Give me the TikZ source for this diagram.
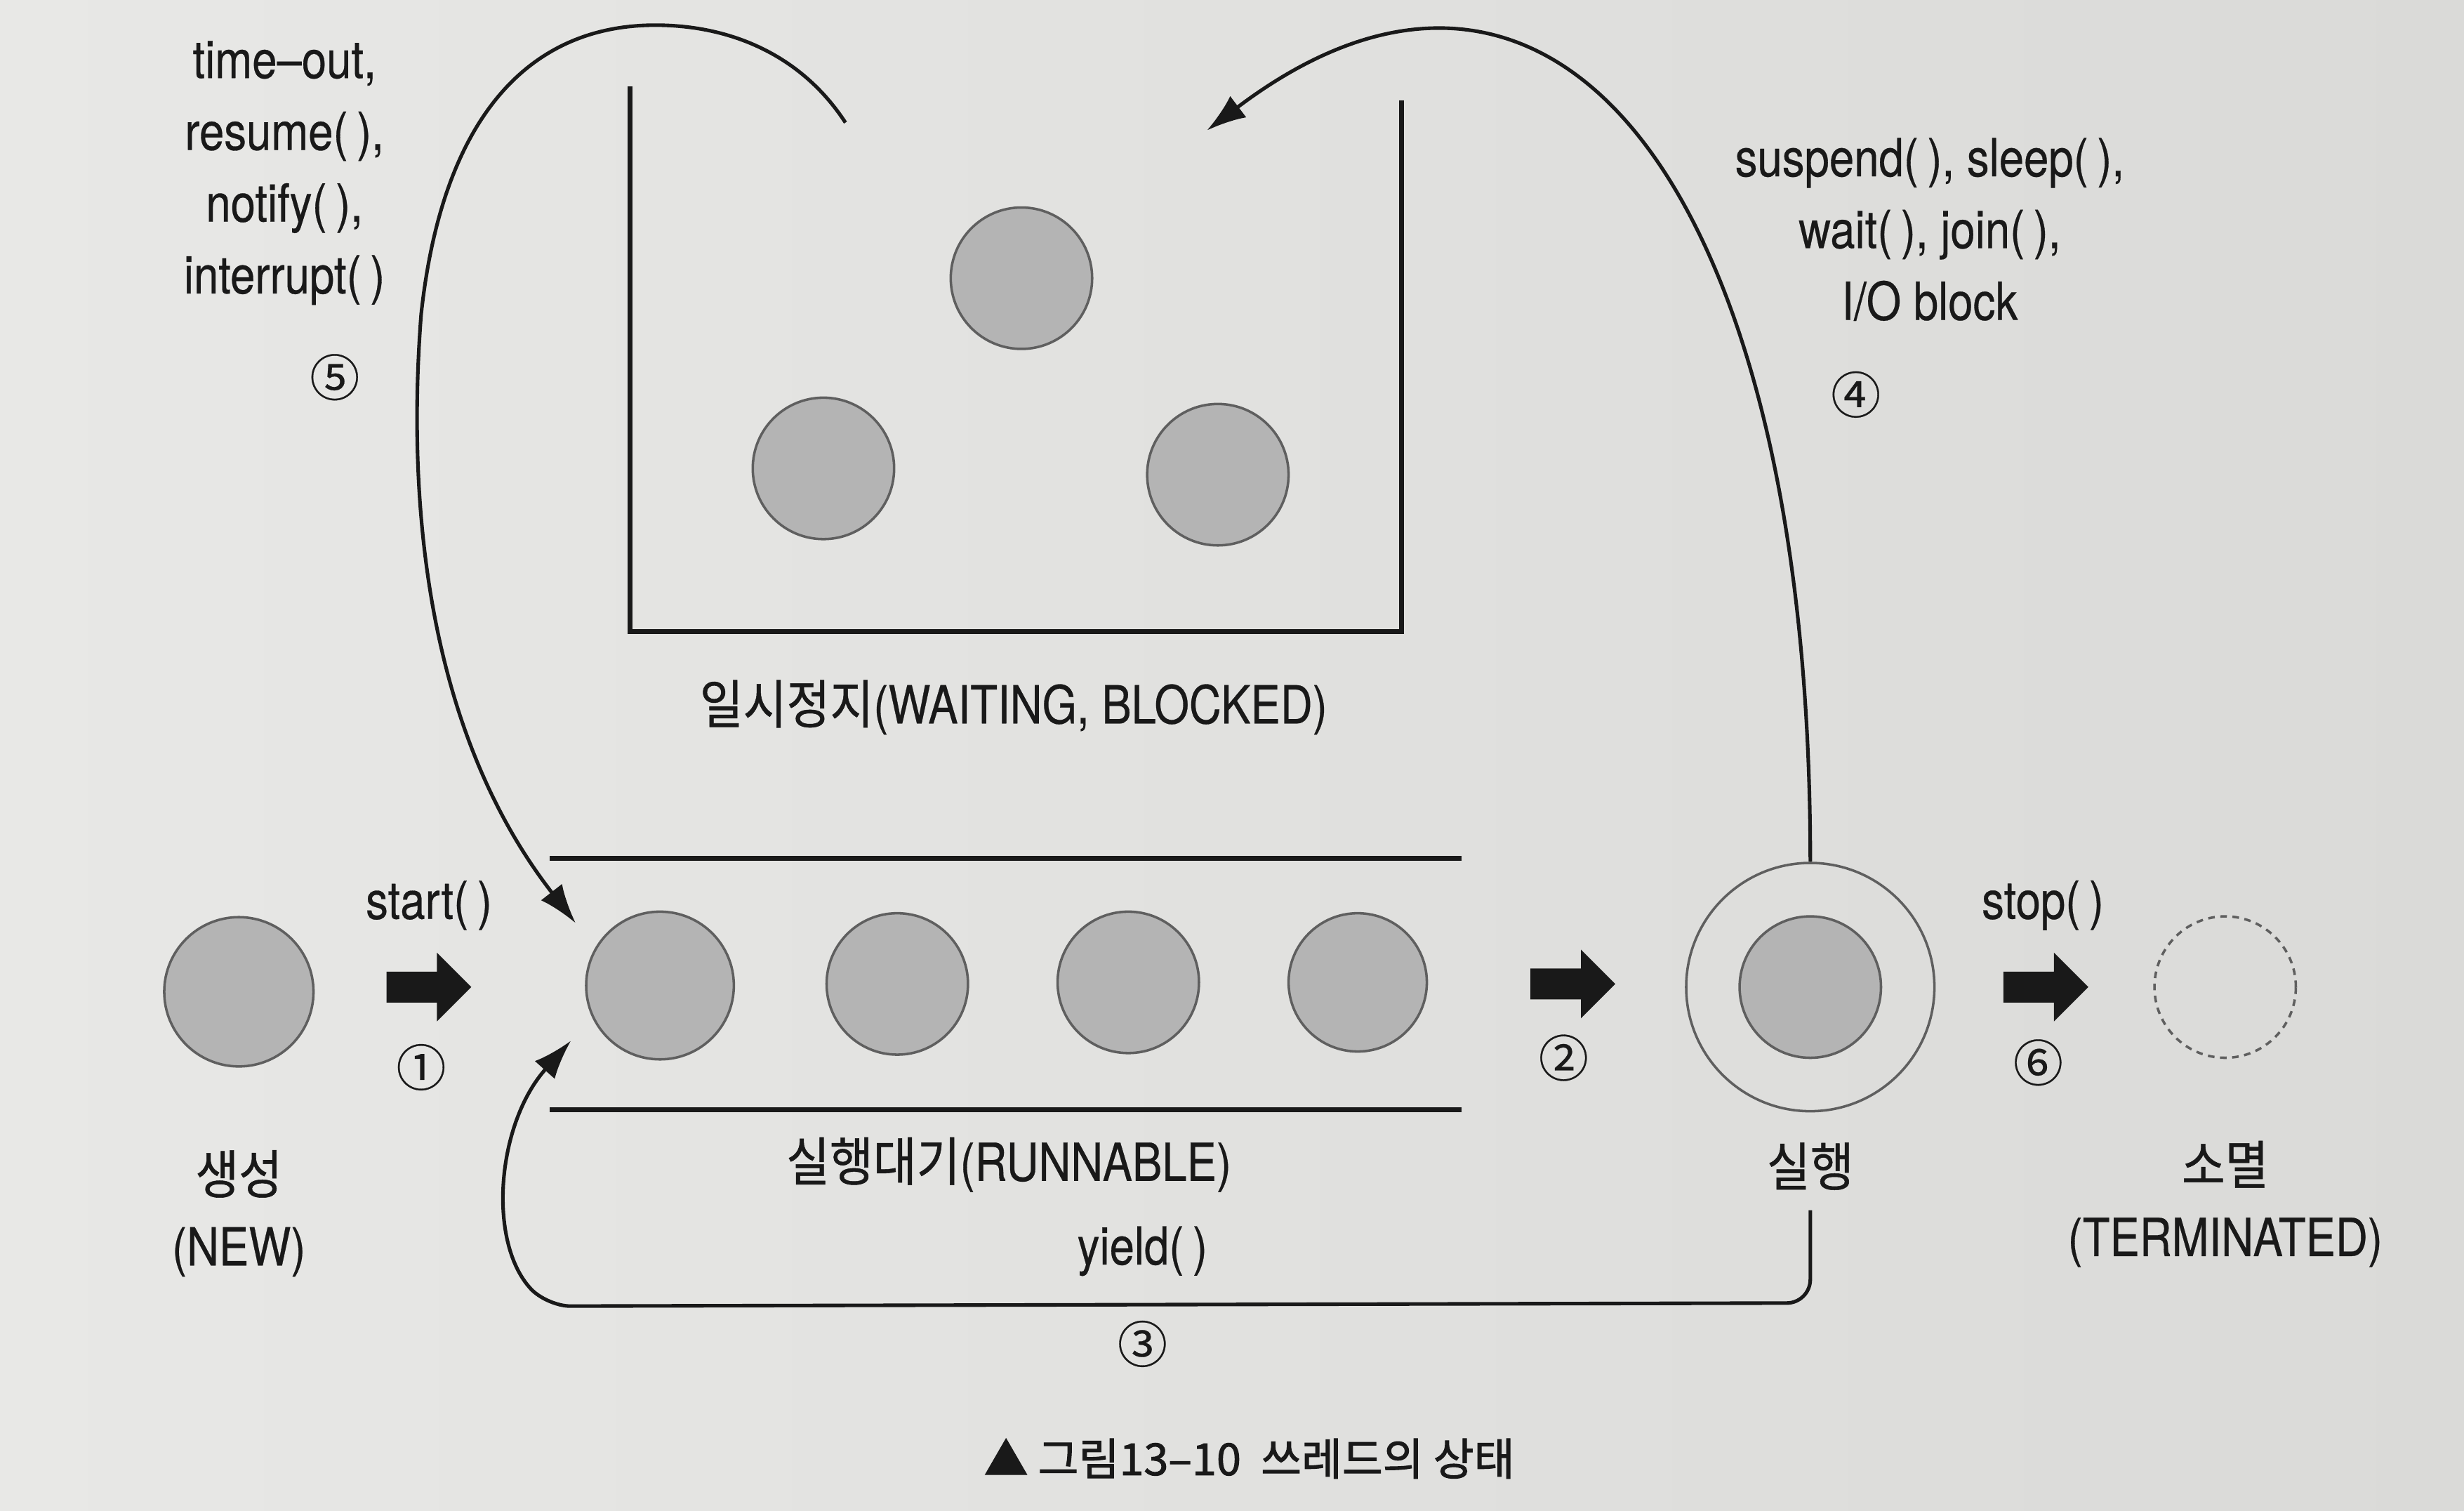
\documentclass[tikz,border=0pt]{standalone}
\usepackage{fontspec}
\setmainfont{TeX Gyre Heros}[FakeStretch=0.85, FakeBold=0.4]
\newfontfamily\kr{Noto Sans CJK KR}[FakeStretch=0.9, FakeBold=0.7]
\newfontfamily\krnum{Noto Sans CJK KR}[FakeBold=0.4]
\newfontfamily\krcap{Noto Sans CJK KR}[FakeBold=1.6]
\usetikzlibrary{arrows.meta}
\usetikzlibrary{shapes.arrows}
\definecolor{paper}{RGB}{232,232,230}
\definecolor{paperdark}{RGB}{218,218,216}
\definecolor{cfill}{RGB}{180,180,180}
\definecolor{cedge}{RGB}{95,95,95}
\definecolor{ink}{RGB}{25,25,25}
\tikzset{thread/.style = {circle, draw=cedge, fill=cfill, line width=0.9pt, inner sep=0, minimum size=1.8cm}}
\tikzset{push/.style = {single arrow, fill=ink, inner xsep=0, inner ysep=0.19cm, minimum height=1.08cm,
                        single arrow head extend=0.24cm, single arrow tip angle=90}}
\tikzset{txt/.style = {text=ink, inner sep=0, align=center, font=\fontsize{19pt}{26pt}\selectfont}}
\tikzset{num/.style = {text=ink, inner sep=0, font=\krnum\fontsize{18pt}{20pt}\selectfont}}
\tikzset{wall/.style = {draw=ink, line width=1.8pt}}
\tikzset{flow/.style = {draw=ink, line width=1.3pt, -{Latex[length=0.5cm, width=0.34cm]}}}

\begin{document}
\begin{tikzpicture}[x=0.02cm, y=-0.02cm]
      \shade [left color=paper, right color=paperdark] (0,0) rectangle (1568,961);
      \useasboundingbox (0,0) rectangle (1568,961);

      % waiting
      \draw [wall] (401,55) -- (401,402) -- (892,402) -- (892,64);
      \node [thread] (w1) at (650,177) {};
      \node [thread] (w2) at (524,298) {};
      \node [thread] (w3) at (775,302) {};
      \node [txt] (wlbl) at (645,450) {{\kr 일시정지}(WAITING, BLOCKED)};

      % runnable
      \draw [wall] (350,546) -- (930,546);
      \draw [wall] (350,706) -- (930,706);
      \node [thread, minimum size=1.88cm] (r1) at (420,627) {};
      \node [thread] (r2) at (571,626) {};
      \node [thread] (r3) at (718,625) {};
      \node [thread, minimum size=1.76cm] (r4) at (864,625) {};
      \node [txt] (rlbl) at (642,741) {{\kr 실행대기}(RUNNABLE)};
      \node [txt] (yield) at (727,796) {yield(\,)};
      \node [num] (n3) at (727,855) {③};

      % new
      \node [thread, minimum size=1.9cm] (new) at (152,631) {};
      \node [txt] (newlbl) at (152,772) {{\kr 생성}\\(NEW)};
      \node [push] (p1) at (268,628) {};
      \node [txt] (start) at (273,576) {start(\,)};
      \node [num] (n1) at (268,679) {①};

      % running
      \node [push] (p2) at (996,626) {};
      \node [num] (n2) at (995,673) {②};
      \node [thread, fill=none, minimum size=3.16cm] (run) at (1152,628) {};
      \node [thread] (runin) at (1152,628) {};
      \node [txt] (runlbl) at (1152,742) {{\kr 실행}};

      % terminated
      \node [push] (p6) at (1297,628) {};
      \node [txt] (stop) at (1300,576) {stop(\,)};
      \node [num] (n6) at (1297,676) {⑥};
      \node [thread, fill=none, dashed, dash pattern=on 2.4pt off 2pt] (dead) at (1416,628) {};
      \node [txt] (deadlbl) at (1416,766) {{\kr 소멸}\\(TERMINATED)};

      % transitions
      \node [txt] (wakeup) at (181,110) {time–out,\\resume(\,),\\notify(\,),\\interrupt(\,)};
      \node [num] (n5) at (213,240) {⑤};
      \node [txt] (block) at (1228,146) {suspend(\,), sleep(\,),\\wait(\,), join(\,),\\I/O block};
      \node [num] (n4) at (1181,251) {④};

      \coordinate (wout) at (538,78);
      \coordinate (win) at (768,83);

      \draw [flow, shorten >=0.4cm] (wout) .. controls (510,35) and (465,16) .. (417,16)
            .. controls (340,16) and (282,70) .. (268,200)
            .. controls (258,330) and (275,470) .. (r1.150);
      \draw [flow] (run.north) .. controls (1152,120) and (990,-85) .. (win);
      \draw [flow, shorten >=0.4cm] ([yshift=-0.25cm]runlbl.south) [rounded corners=0.3cm]
            -- (1152,829) -- (348,831) [sharp corners]
            .. controls (310,790) and (316,715) .. (r1.205);

      \node [text=ink, inner sep=0, font=\krcap\fontsize{16pt}{18pt}\selectfont] (caption) at (795,928)
            {▲ 그림13–10\ \ 쓰레드의 상태};
    \end{tikzpicture}
\end{document}
